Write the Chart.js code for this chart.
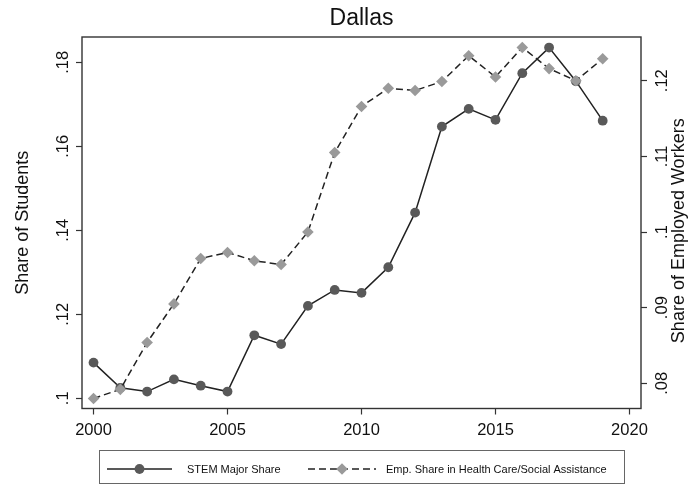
<!DOCTYPE html>
<html>
<head>
<meta charset="utf-8">
<script src="https://cdn.jsdelivr.net/npm/chart.js@4"></script>
<style>
  html, body { margin: 0; padding: 0; background: #ffffff; }
  #wrap { width: 690px; height: 485px; position: relative; }
</style>
</head>
<body>
<div id="wrap"><canvas id="chart" width="690" height="485"></canvas></div>
<script>
// Dallas: STEM major share of students vs. employment share in health care / social assistance
const years = [2000, 2001, 2002, 2003, 2004, 2005, 2006, 2007, 2008, 2009,
               2010, 2011, 2012, 2013, 2014, 2015, 2016, 2017, 2018, 2019];
const stemShare = [0.1085, 0.1025, 0.1016, 0.1045, 0.1030, 0.1016, 0.1150, 0.1129, 0.1220, 0.1258,
                   0.1251, 0.1312, 0.1442, 0.1647, 0.1689, 0.1663, 0.1774, 0.1835, 0.1755, 0.1661];
const healthShare = [0.0780, 0.0792, 0.0854, 0.0905, 0.0965, 0.0973, 0.0962, 0.0957, 0.1000, 0.1105,
                     0.1166, 0.1190, 0.1187, 0.1199, 0.1233, 0.1205, 0.1244, 0.1216, 0.1200, 0.1229];

const yearTicks = [2000, 2005, 2010, 2015, 2020];
const studentTicks = [0.10, 0.12, 0.14, 0.16, 0.18];
const studentTickLabels = ['.1', '.12', '.14', '.16', '.18'];
const workerTicks = [0.08, 0.09, 0.10, 0.11, 0.12];
const workerTickLabels = ['.08', '.09', '.1', '.11', '.12'];

const seriesNames = ['STEM Major Share', 'Emp. Share in Health Care/Social Assistance'];
const chartTitle = 'Dallas';
const leftAxisTitle = 'Share of Students';
const rightAxisTitle = 'Share of Employed Workers';

const FONT = '"Liberation Sans", Arial, Helvetica, sans-serif';
const INK = '#222222';
const FRAME = '#333333';

// Frame, titles and the boxed legend (line sample with marker in the middle)
const decorations = {
  id: 'decorations',
  afterDraw(chart) {
    const ctx = chart.ctx;
    const ca = chart.chartArea;
    ctx.save();

    // plot frame
    ctx.strokeStyle = FRAME;
    ctx.lineWidth = 1.4;
    ctx.strokeRect(ca.left, ca.top, ca.right - ca.left, ca.bottom - ca.top);

    // chart title
    ctx.fillStyle = '#111111';
    ctx.font = '23px ' + FONT;
    ctx.textAlign = 'center';
    ctx.textBaseline = 'alphabetic';
    ctx.fillText(chartTitle, (ca.left + ca.right) / 2, 25);

    // axis titles, both reading bottom-to-top
    const midY = (ca.top + ca.bottom) / 2;
    ctx.font = '18px ' + FONT;
    ctx.save();
    ctx.translate(28, midY);
    ctx.rotate(-Math.PI / 2);
    ctx.fillText(leftAxisTitle, 0, 0);
    ctx.restore();

    ctx.save();
    ctx.translate(684, midY + 8);
    ctx.rotate(-Math.PI / 2);
    ctx.fillText(rightAxisTitle, 0, 0);
    ctx.restore();

    // legend
    const box = { x: 99, y: 450, w: 525, h: 33 };
    ctx.strokeStyle = '#666666';
    ctx.lineWidth = 1;
    ctx.strokeRect(box.x + 0.5, box.y + 0.5, box.w, box.h);

    const rowY = 469;
    const items = [
      { ds: chart.data.datasets[0], x0: 107, x1: 172, tx: 187 },
      { ds: chart.data.datasets[1], x0: 308, x1: 376, tx: 386 }
    ];
    ctx.font = '11px ' + FONT;
    ctx.textAlign = 'left';
    ctx.textBaseline = 'middle';
    items.forEach(it => {
      const ds = it.ds;
      ctx.save();
      ctx.strokeStyle = ds.borderColor;
      ctx.lineWidth = ds.borderWidth;
      ctx.setLineDash(ds.borderDash || []);
      ctx.beginPath();
      ctx.moveTo(it.x0, rowY);
      ctx.lineTo(it.x1, rowY);
      ctx.stroke();
      ctx.restore();
      ctx.save();
      ctx.fillStyle = ds.pointBackgroundColor;
      ctx.strokeStyle = ds.pointBackgroundColor;
      Chart.helpers.drawPoint(ctx, {
        pointStyle: ds.pointStyle,
        radius: ds.pointRadius,
        borderWidth: 0,
        rotation: 0
      }, (it.x0 + it.x1) / 2, rowY);
      ctx.restore();
      ctx.fillStyle = '#111111';
      ctx.fillText(ds.label, it.tx, rowY + 0.5);
    });

    ctx.restore();
  }
};

const tickFont = { family: FONT, size: 16.5 };

new Chart(document.getElementById('chart'), {
  type: 'line',
  data: {
    datasets: [
      {
        label: seriesNames[0],
        data: years.map((y, i) => ({ x: y, y: stemShare[i] })),
        yAxisID: 'y',
        order: 2,
        borderColor: INK,
        borderWidth: 1.5,
        pointStyle: 'circle',
        pointRadius: 4.9,
        pointBackgroundColor: '#595959',
        pointBorderWidth: 0,
        tension: 0,
        fill: false
      },
      {
        label: seriesNames[1],
        data: years.map((y, i) => ({ x: y, y: healthShare[i] })),
        yAxisID: 'y2',
        order: 1,
        borderColor: INK,
        borderWidth: 1.5,
        borderDash: [7, 4],
        pointStyle: 'rectRot',
        pointRadius: 5.8,
        pointBackgroundColor: '#9a9a9a',
        pointBorderWidth: 0,
        tension: 0,
        fill: false
      }
    ]
  },
  options: {
    responsive: false,
    animation: false,
    devicePixelRatio: 1,
    layout: { padding: { top: 37, left: 0, right: 0, bottom: 0 } },
    plugins: {
      legend: { display: false },
      title: { display: false },
      tooltip: { enabled: false }
    },
    scales: {
      x: {
        type: 'linear',
        position: 'bottom',
        min: 1999.57,
        max: 2020.43,
        afterBuildTicks: s => { s.ticks = yearTicks.map(v => ({ value: v })); },
        afterFit: s => { s.height = 76.5; },
        ticks: {
          autoSkip: false,
          maxRotation: 0,
          padding: 6,
          color: '#111111',
          font: tickFont,
          callback: v => String(v)
        },
        grid: { drawOnChartArea: false, drawTicks: true, tickLength: 6, tickColor: FRAME, tickWidth: 1.2 },
        border: { display: false }
      },
      y: {
        type: 'linear',
        position: 'left',
        min: 0.09757,
        max: 0.18602,
        afterBuildTicks: s => { s.ticks = studentTicks.map(v => ({ value: v })); },
        afterFit: s => { s.width = 82; },
        ticks: {
          autoSkip: false,
          minRotation: 90,
          maxRotation: 90,
          crossAlign: 'center',
          padding: 1.4,
          color: '#111111',
          font: tickFont,
          callback: (v, i) => studentTickLabels[i]
        },
        grid: { drawOnChartArea: false, drawTicks: true, tickLength: 6, tickColor: FRAME, tickWidth: 1.2 },
        border: { display: false }
      },
      y2: {
        type: 'linear',
        position: 'right',
        min: 0.07667,
        max: 0.12578,
        afterBuildTicks: s => { s.ticks = workerTicks.map(v => ({ value: v })); },
        afterFit: s => { s.width = 49; },
        ticks: {
          autoSkip: false,
          minRotation: 90,
          maxRotation: 90,
          crossAlign: 'center',
          padding: 4,
          color: '#111111',
          font: tickFont,
          callback: (v, i) => workerTickLabels[i]
        },
        grid: { drawOnChartArea: false, drawTicks: true, tickLength: 6, tickColor: FRAME, tickWidth: 1.2 },
        border: { display: false }
      }
    }
  },
  plugins: [decorations]
});
</script>
</body>
</html>
